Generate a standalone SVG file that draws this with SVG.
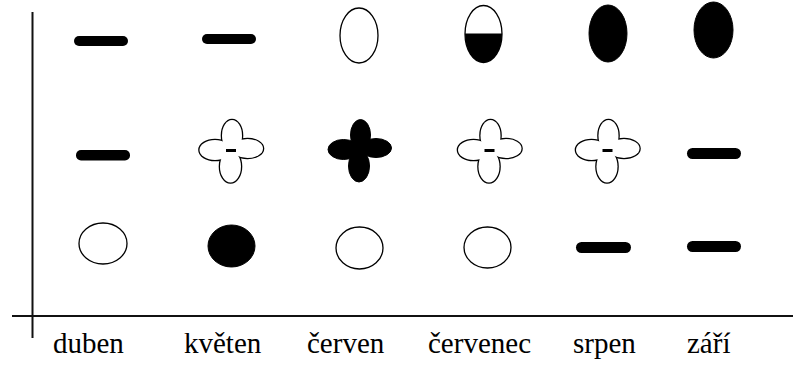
<svg xmlns="http://www.w3.org/2000/svg" width="793" height="365" viewBox="0 0 793 365">
<style>
.bar{fill:#000}
.o{fill:#fff;stroke:#000;stroke-width:1.3}
.f{fill:#000;stroke:#000;stroke-width:1}
.os{fill:#fff;stroke:#000;stroke-width:2.6}
.ow{fill:#fff;stroke:none}
.ax{stroke:#111;stroke-width:2;fill:none}
.lbl{font-family:"Liberation Serif","Times New Roman",serif;font-size:29px;fill:#000}
</style>
<defs>
<g id="petals">
<ellipse cx="1" cy="-15.5" rx="10" ry="15.5"/>
<ellipse cx="-0.5" cy="15.5" rx="10.5" ry="16"/>
<ellipse cx="-16" cy="-1" rx="15.5" ry="10"/>
<ellipse cx="16.5" cy="-2.5" rx="15.5" ry="9.5"/>
</g>
<g id="flower">
<use href="#petals" class="os"/>
<use href="#petals" class="ow"/>
<rect x="-5" y="-2" width="10" height="3" fill="#000"/>
</g>
<clipPath id="lowhalf"><rect x="460" y="33.5" width="50" height="35"/></clipPath>
</defs>
<rect width="793" height="365" fill="#fff"/>
<g id="axes">
<line class="ax" x1="32.5" y1="12" x2="32.5" y2="338"/>
<line class="ax" x1="12" y1="316" x2="793" y2="316"/>
</g>
<g id="row1">
<rect class="bar" x="74" y="36" width="54" height="10" rx="5"/>
<rect class="bar" x="202" y="34" width="54" height="10" rx="5"/>
<ellipse class="o" cx="359" cy="35.5" rx="19" ry="27.5"/>
<g id="half">
<ellipse class="o" cx="483.5" cy="34" rx="18.5" ry="28.5"/>
<ellipse fill="#000" cx="483.5" cy="34" rx="18.5" ry="28.5" clip-path="url(#lowhalf)"/>
</g>
<ellipse class="f" cx="608" cy="33.5" rx="19" ry="28.5"/>
<ellipse class="f" cx="713.5" cy="30" rx="19.5" ry="28"/>
</g>
<g id="row2">
<rect class="bar" x="76" y="150" width="54" height="10.5" rx="5"/>
<use href="#flower" x="231" y="151"/>
<use href="#petals" x="359.5" y="150.5" class="f"/>
<use href="#flower" x="489.5" y="151"/>
<use href="#flower" x="607.5" y="151"/>
<rect class="bar" x="687" y="148" width="54" height="11" rx="5.5"/>
</g>
<g id="row3">
<ellipse class="o" cx="103" cy="243.5" rx="24" ry="20.5"/>
<ellipse class="f" cx="231.5" cy="246" rx="23.5" ry="21"/>
<ellipse class="o" cx="359.5" cy="248" rx="23.5" ry="21"/>
<ellipse class="o" cx="487.5" cy="247.5" rx="23.5" ry="20.5"/>
<rect class="bar" x="576" y="242" width="55" height="11" rx="5.5"/>
<rect class="bar" x="687" y="241" width="54" height="11" rx="5.5"/>
</g>
<g id="labels">
<text class="lbl" x="53" y="353">duben</text>
<text class="lbl" x="184" y="353">květen</text>
<text class="lbl" x="307" y="353">červen</text>
<text class="lbl" x="428" y="353">červenec</text>
<text class="lbl" x="573" y="353">srpen</text>
<text class="lbl" x="687" y="353">září</text>
</g>
</svg>
